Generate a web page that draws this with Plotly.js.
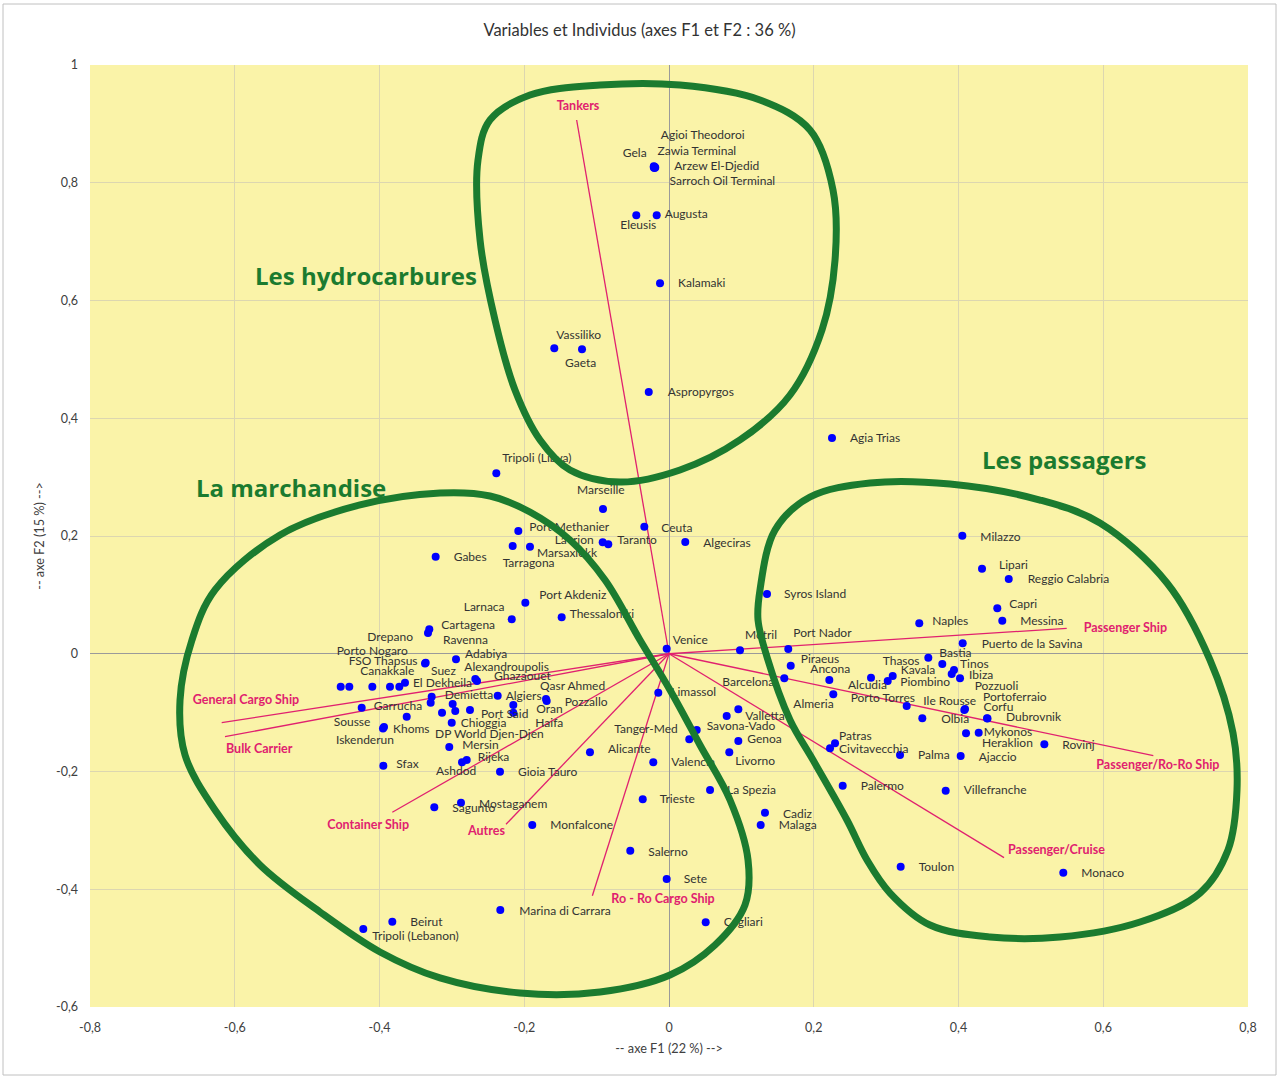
<!DOCTYPE html>
<html><head><meta charset="utf-8">
<script src="https://cdn.plot.ly/plotly-3.0.1.min.js"></script>
<style>html,body{margin:0;padding:0;background:#fff}#chart{width:1279px;height:1079px}</style>
</head><body><div id="chart"></div>
<script>
// ---------- DATA ----------
const individuals = ["Agioi Theodoroi","Zawia Terminal","Arzew El-Djedid","Sarroch Oil Terminal","Gela","Eleusis","Augusta","Kalamaki","Vassiliko","Gaeta","Aspropyrgos","Agia Trias","Tripoli (Libya)","Marseille","Port Methanier","Ceuta","Lavrion","Taranto","Tarragona","Marsaxlokk","Algeciras","Gabes","Port Akdeniz","Larnaca","Thessaloniki","Cartagena","Ravenna","Porto Nogaro","Drepano","Canakkale","","","FSO Thapsus","Suez","Adabiya","Alexandroupolis","Ghazaouet","El Dekheila","Demietta","","Garrucha","Sousse","Khoms","Iskenderun","Sfax","Algiers","Qasr Ahmed","Pozzallo","Oran","Port Said","Haifa","Chioggia","DP World Djen-Djen","Mersin","Rijeka","Ashdod","Gioia Tauro","","","Alicante","Tanger-Med","","Savona-Vado","Valletta","Genoa","Livorno","Valencia","Limassol","Venice","Motril","Port Nador","Piraeus","Ancona","Barcelona","Almeria","Alcudia","La Spezia","Trieste","Cadiz","Malaga","Salerno","Sete","Cagliari","Monfalcone","Mostaganem","Sagunto","Marina di Carrara","Beirut","Tripoli (Lebanon)","Milazzo","Lipari","Reggio Calabria","Capri","Messina","Naples","Puerto de la Savina","Bastia","Thasos","Kavala","Piombino","Tinos","Ibiza","Pozzuoli","Porto Torres","Ile Rousse","Portoferraio","Corfu","Olbia","Dubrovnik","Mykonos","Heraklion","Rovinj","Patras","Civitavecchia","Palma","Ajaccio","Palermo","Villefranche","Toulon","Monaco","Syros Island"];
const f1 = [-0.021,-0.020,-0.019,-0.020,-0.021,-0.0452,-0.0170,-0.0124,-0.1585,-0.1202,-0.0280,0.2252,-0.2386,-0.0912,-0.2082,-0.0341,-0.0916,-0.0839,-0.2160,-0.1921,0.0225,-0.3224,-0.1985,-0.2173,-0.1483,-0.3312,-0.3330,-0.4536,-0.4417,-0.4099,-0.3855,-0.3726,-0.3362,-0.3371,-0.2943,-0.2676,-0.2653,-0.3648,-0.3279,-0.3293,-0.4246,-0.3624,-0.3938,-0.3952,-0.3947,-0.2367,-0.1699,-0.1690,-0.2151,-0.2750,-0.2151,-0.3002,-0.3136,-0.3036,-0.2795,-0.2860,-0.2335,-0.2989,-0.2953,-0.1092,0.0280,0.0383,0.0797,0.0958,0.0958,0.0833,-0.0217,-0.0148,-0.0032,0.0981,0.1648,0.1682,0.2215,0.1593,0.2270,0.2791,0.0567,-0.0363,0.1326,0.1267,-0.0535,-0.0032,0.0507,-0.1889,-0.2874,-0.3243,-0.2331,-0.3823,-0.4224,0.4053,0.4325,0.4694,0.4536,0.4605,0.3458,0.4058,0.3583,0.3091,0.3022,0.3776,0.3938,0.4021,0.3906,0.3284,0.4080,0.4090,0.4401,0.3500,0.4394,0.4279,0.4104,0.5186,0.2294,0.2225,0.3192,0.4030,0.2400,0.3823,0.3201,0.5448,0.1354];
const f2 = [0.828,0.827,0.826,0.825,0.826,0.7447,0.7447,0.6292,0.5188,0.5171,0.4446,0.3665,0.3065,0.2459,0.2085,0.2158,0.1893,0.1859,0.1830,0.1818,0.1898,0.1648,0.0867,0.0585,0.0619,0.0415,0.0352,-0.0560,-0.0560,-0.0560,-0.0560,-0.0560,-0.0152,-0.0166,-0.0094,-0.0429,-0.0463,-0.0492,-0.0730,-0.0831,-0.0916,-0.1069,-0.1244,-0.1270,-0.1901,-0.0713,-0.0769,-0.0803,-0.0870,-0.0955,-0.1001,-0.1171,-0.1001,-0.1584,-0.1805,-0.1844,-0.2003,-0.0853,-0.0972,-0.1674,-0.1453,-0.1295,-0.1057,-0.0944,-0.1482,-0.1674,-0.1844,-0.0662,0.0086,0.0059,0.0081,-0.0203,-0.0446,-0.0417,-0.0689,-0.0407,-0.2314,-0.2472,-0.2700,-0.2909,-0.3345,-0.3826,-0.4561,-0.2909,-0.2530,-0.2608,-0.4352,-0.4551,-0.4675,0.2005,0.1445,0.1270,0.0772,0.0561,0.0517,0.0177,-0.0067,-0.0378,-0.0463,-0.0174,-0.0276,-0.0417,-0.0344,-0.0887,-0.0955,-0.0939,-0.1100,-0.1096,-0.1096,-0.1341,-0.1351,-0.1538,-0.1521,-0.1606,-0.1720,-0.1737,-0.2241,-0.2326,-0.3617,-0.3719,0.1015];

const variables = ["Tankers","Passenger Ship","Passenger/Ro-Ro Ship","Passenger/Cruise","General Cargo Ship","Bulk Carrier","Container Ship","Autres","Ro - Ro Cargo Ship"];
const varF1 = [-0.1276,0.5495,0.6692,0.4629,-0.618,-0.6135,-0.3823,-0.2252,-0.1059];
const varF2 = [0.9066,0.0432,-0.1732,-0.3463,-0.1171,-0.1409,-0.2693,-0.2897,-0.411];

const groupNames = ["Les hydrocarbures","La marchandise","Les passagers"];
const groupF1 = [-0.4187,-0.5223,0.5458];
const groupF2 = [0.6433,0.2832,0.3291];

// hand-drawn enclosures (data coordinates)
const loopHydroX = [-0.2611,-0.2639,-0.2473,-0.1921,-0.0953,0.0152,0.1257,0.1948,0.2266,0.2294,0.2114,0.1672,0.0981,0.0152,-0.0677,-0.1368,-0.1782,-0.2128,-0.2404,-0.2611];
const loopHydroY = [0.7028,0.8386,0.9066,0.9490,0.9660,0.9660,0.9406,0.8896,0.7877,0.6688,0.5499,0.4395,0.3631,0.3121,0.2917,0.3121,0.3631,0.4480,0.5669,0.7028];
const loopGoodsX = [-0.6756,-0.6591,-0.6273,-0.5375,-0.4269,-0.3164,-0.2473,-0.1921,-0.1368,-0.0884,-0.0401,0.0014,0.0428,0.0843,0.1092,0.1050,0.0636,0.0014,-0.0953,-0.2059,-0.3164,-0.3993,-0.4822,-0.5651,-0.6273,-0.6687,-0.6756];
const loopGoodsY = [-0.0786,0.0234,0.1083,0.2017,0.2527,0.2730,0.2679,0.2408,0.1932,0.1253,0.0234,-0.0616,-0.1550,-0.2484,-0.3503,-0.4267,-0.4947,-0.5456,-0.5745,-0.5762,-0.5507,-0.5066,-0.4386,-0.3588,-0.2654,-0.1720,-0.0786];
const loopPassX = [0.7475,0.7793,0.7848,0.7724,0.7337,0.6508,0.5402,0.4435,0.3606,0.3054,0.2736,0.2459,0.1990,0.1672,0.1354,0.1230,0.1257,0.1465,0.1948,0.2777,0.3883,0.5126,0.5955,0.6881,0.7475];
const loopPassY = [-0.0106,-0.1346,-0.2314,-0.3333,-0.4064,-0.4556,-0.4811,-0.4811,-0.4607,-0.4064,-0.3503,-0.2824,-0.1805,-0.1125,-0.0055,0.0573,0.1083,0.2102,0.2662,0.2900,0.2883,0.2611,0.2221,0.1202,-0.0106];

const xTickVals = [-0.8,-0.6,-0.4,-0.2,0,0.2,0.4,0.6,0.8];
const xTickText = ["-0,8","-0,6","-0,4","-0,2","0","0,2","0,4","0,6","0,8"];
const yTickVals = [-0.6,-0.4,-0.2,0,0.2,0.4,0.6,0.8,1];
const yTickText = ["-0,6","-0,4","-0,2","0","0,2","0,4","0,6","0,8","1"];

// ---------- STYLE / LABEL PLACEMENT (pixel offsets of label left edge from point) ----------
const labelShift = [[7,30],[3,15],[19,0],[15,-14],[-31,13],[-16,-11],[8,0],[18,-1],[2,12],[-17,-15],[19,-1],[18,-1],[6,14],[-26,18],[11,3],[17,-2],[-48,1],[9,3],[-10,-18],[7,-7],[18,-2],[18,-1],[14,7],[-48,11],[8,2],[12,3],[15,-8],[-4,35],[18,49],[-12,15],[0,0],[0,0],[-77,1],[6,-8],[9,4],[-11,11],[17,4],[8,-1],[13,1],[0,0],[12,1],[-73,-6],[9,-3],[-47,-12],[13,1],[8,-1],[-6,12],[18,-2],[23,-5],[11,-5],[22,-11],[9,-1],[-7,-22],[13,1],[11,2],[-26,-10],[18,-1],[0,0],[0,0],[18,2],[-75,9],[0,0],[-20,-11],[7,-8],[9,1],[6,-10],[18,-1],[13,0],[6,8],[5,14],[5,15],[10,6],[-19,10],[-62,-5],[-40,-11],[-23,-8],[17,-1],[17,-1],[18,-2],[18,-1],[18,-2],[17,-1],[18,-1],[18,-1],[18,-2],[18,-2],[19,-2],[18,-1],[9,-8],[18,-2],[17,3],[19,-1],[12,3],[18,-1],[13,1],[19,-2],[11,4],[-10,14],[13,10],[-42,-19],[6,5],[9,2],[23,-13],[-56,7],[-41,8],[18,11],[-4,11],[19,-2],[19,0],[5,0],[16,-11],[18,-2],[4,6],[9,-2],[18,-1],[18,-2],[18,-1],[18,0],[18,-1],[18,-1],[17,-1]];
const varLabelShift = [[-20,13],[17,-1],[-57,-10],[4,7],[-29,22],[1,-13],[-65,-14],[-38,-8],[19,-4]];

const W = 1279, H = 1079;
const M = {l: 90, r: 31, t: 65, b: 72};
const XR = [-0.8, 0.8], YR = [-0.6, 1];
const ux = (XR[1]-XR[0]) / (W - M.l - M.r);
const uy = (YR[1]-YR[0]) / (H - M.t - M.b);

const FONT = 'Lato, "Open Sans", "DejaVu Sans", sans-serif';
const MAGENTA = '#e0216f';
const GREEN = '#1b7b2f';

// vectors
const vx = [], vy = [];
variables.forEach((v, i) => { vx.push(0, varF1[i], null); vy.push(0, varF2[i], null); });

const traces = [];
traces.push({type:'scatter', mode:'lines', x: vx, y: vy, line:{color: MAGENTA, width: 1.3}, hoverinfo:'skip', showlegend:false});
traces.push({type:'scatter', mode:'markers', x: f1, y: f2, text: individuals, marker:{color:'#0000ff', size:8}, hoverinfo:'text', showlegend:false});
traces.push({type:'scatter', mode:'text',
  x: f1.map((v,i)=> v + labelShift[i][0]*ux),
  y: f2.map((v,i)=> v + labelShift[i][1]*uy),
  text: individuals, textposition:'middle right',
  textfont:{family: FONT, size: 12, color:'#333333'}, hoverinfo:'skip', showlegend:false});
traces.push({type:'scatter', mode:'text',
  x: varF1.map((v,i)=> v + varLabelShift[i][0]*ux),
  y: varF2.map((v,i)=> v + varLabelShift[i][1]*uy),
  text: variables, textposition:'middle right',
  textfont:{family: FONT, size: 12.5, color: MAGENTA, weight: 'bold'}, hoverinfo:'skip', showlegend:false});
[[loopHydroX, loopHydroY],[loopGoodsX, loopGoodsY],[loopPassX, loopPassY]].forEach(([lx, ly]) => {
  traces.push({type:'scatter', mode:'lines', x: lx, y: ly, line:{color: GREEN, width: 7, shape:'spline', smoothing: 1}, hoverinfo:'skip', showlegend:false});
});

const annotations = groupNames.map((g,i) => ({
  x: groupF1[i], y: groupF2[i], xref:'x', yref:'y', text: g, showarrow:false,
  font:{family:'"Open Sans", Lato, sans-serif', size: 24, color: GREEN, weight: 'bold'}
}));

const layout = {
  width: W, height: H,
  margin: M,
  paper_bgcolor: '#ffffff',
  plot_bgcolor: '#faf3a8',
  font: {family: FONT, size: 12.5, color: '#404040'},
  title: {text: 'Variables et Individus (axes F1 et F2 : 36 %)', x: 0.5, xanchor:'center', y: 1 - 30/H, yanchor:'middle',
          font: {family: FONT, size: 16.5, color:'#333333'}},
  xaxis: {range: XR, tickvals: xTickVals, ticktext: xTickText, showgrid: true, gridcolor:'#dcd6b0', gridwidth:1,
          zeroline: true, zerolinecolor:'#9a9a9a', zerolinewidth:1, showline:false, ticks:'', ticklabelstandoff: 11,
          tickfont:{family: FONT, size: 12.5, color:'#404040'},
          title:{text:'-- axe F1 (22 %) -->', font:{family: FONT, size: 12.7, color:'#404040'}, standoff: 10}},
  yaxis: {range: YR, tickvals: yTickVals, ticktext: yTickText, showgrid: true, gridcolor:'#dcd6b0', gridwidth:1,
          zeroline: true, zerolinecolor:'#9a9a9a', zerolinewidth:1, showline:false, ticks:'', ticklabelstandoff: 11,
          tickfont:{family: FONT, size: 12.5, color:'#404040'},
          title:{text:'-- axe F2 (15 %) -->', font:{family: FONT, size: 12.7, color:'#404040'}, standoff: 8}},
  annotations: annotations,
  shapes: [{type:'rect', xref:'paper', yref:'paper', x0: (3-M.l)/(W-M.l-M.r), x1: (1276-M.l)/(W-M.l-M.r),
            y0: -(1075-(H-M.b))/(H-M.t-M.b), y1: 1 + (M.t-4)/(H-M.t-M.b), line:{color:'#c0c0c0', width:1}, layer:'below'}],
  showlegend: false
};

Plotly.newPlot('chart', traces, layout, {staticPlot: true, displayModeBar: false});
</script>
</body></html>
